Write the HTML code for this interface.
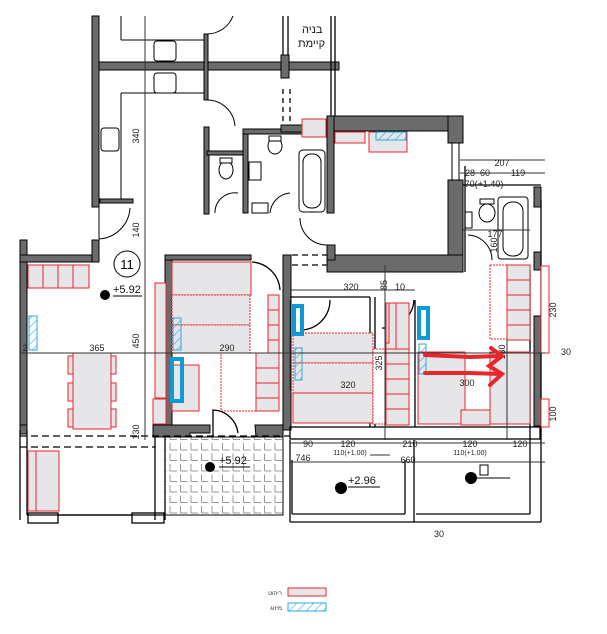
<!DOCTYPE html>
<html><head><meta charset="utf-8"><style>
html,body{margin:0;padding:0;background:#fff;}
svg{display:block;font-family:"Liberation Sans","Noto Sans CJK SC",sans-serif;}
</style></head><body>
<svg width="607" height="634" viewBox="0 0 607 634" xmlns="http://www.w3.org/2000/svg">
<defs>
<pattern id="tile" width="10.5" height="10.5" patternUnits="userSpaceOnUse">
<path d="M2 2 V9 M2 9 H9" stroke="#999" stroke-width="1" fill="none"/>
</pattern>
<pattern id="hatch" width="6" height="6" patternUnits="userSpaceOnUse" patternTransform="rotate(45)">
<line x1="0" y1="0" x2="0" y2="6" stroke="#29a8e0" stroke-width="1.2"/>
</pattern>
</defs>
<g fill="none" stroke="#000" stroke-width="1">
<line x1="121" y1="16" x2="121" y2="40"/><line x1="121" y1="40" x2="204" y2="40"/>
<line x1="121" y1="93" x2="204" y2="93"/><line x1="121" y1="93" x2="121" y2="200"/>
<path d="M207 34 A28 28 0 0 0 233 16"/>
<path d="M207 100 A28 28 0 0 1 235 126"/>
<rect x="154" y="41" width="22" height="20" rx="3"/>
<rect x="154" y="73" width="22" height="20" rx="3"/>
<rect x="101" y="128" width="18" height="23" rx="3"/>
<path d="M99 206 V239 M99 239 A33 33 0 0 0 130 208"/>
</g>
<g fill="#6b6b6b" stroke="#000" stroke-width="1">
<rect x="92" y="16" width="7" height="191"/>
<rect x="99" y="62" width="240" height="8"/>
<rect x="204" y="34" width="4" height="66"/>
<rect x="281" y="55" width="8" height="23"/>
<rect x="100" y="199" width="33" height="4"/>
<rect x="20" y="240" width="7" height="190"/>
<rect x="20" y="255" width="79" height="7"/>
<rect x="92" y="240" width="7" height="22"/>
<rect x="204" y="127" width="5" height="87"/>
<rect x="207" y="151" width="36" height="4"/>
<rect x="243" y="129" width="5" height="84"/>
<rect x="243" y="129" width="62" height="5"/>
<rect x="281" y="125" width="24" height="7"/>
<rect x="327" y="116" width="136" height="15"/>
<rect x="327" y="116" width="7" height="97"/>
<rect x="448" y="116" width="15" height="27"/>
<rect x="448" y="180" width="15" height="92"/>
<rect x="327" y="255" width="136" height="17"/>
<rect x="327" y="245" width="8" height="15"/>
<rect x="165" y="255" width="7" height="175"/>
<rect x="165" y="255" width="86" height="5"/>
<rect x="283" y="255" width="8" height="175"/>
<rect x="534" y="187" width="7" height="20"/>
<rect x="534" y="252" width="7" height="18"/>
<rect x="534" y="316" width="7" height="110"/>
<polygon points="153,425 210,425 210,433 190,433 190,437 165,437 165,437 153,437"/>
<polygon points="255,425 283,425 283,437 256,437"/>
<rect x="20" y="425" width="7" height="9"/>
</g>
<g fill="none" stroke="#000"><line x1="452" y1="143" x2="452" y2="180"/><line x1="459" y1="143" x2="459" y2="180"/></g>
<g fill="#fff" stroke="#000" stroke-width="1">
<ellipse cx="226" cy="170" rx="7" ry="9"/><rect x="220" y="158" width="12" height="5"/>
<ellipse cx="275" cy="146" rx="7" ry="8"/><rect x="269" y="136" width="12" height="5"/>
<rect x="249" y="162" width="12" height="18"/>
<rect x="299" y="150" width="26" height="62" rx="4"/>
<rect x="303" y="154" width="18" height="54" rx="8"/>
<rect x="252" y="203" width="16" height="10"/>
<path d="M215 213 A20 20 0 0 1 238 193 M270 213 A22 22 0 0 1 290 193"/>
<path d="M300 218 A27 27 0 0 0 327 245"/>
<ellipse cx="487" cy="213" rx="8" ry="9"/><rect x="480" y="199" width="14" height="5"/>
<rect x="498" y="197" width="30" height="62" rx="3"/>
<rect x="503" y="202" width="20" height="54" rx="9"/>
<rect x="465" y="212" width="7" height="16"/>
<path d="M468 235 A25 25 0 0 1 492 260"/>
</g>
<g fill="none" stroke="#000" stroke-width="1.3">
<line x1="463" y1="185" x2="541" y2="185"/>
<line x1="465" y1="166" x2="465" y2="272"/>
<line x1="530" y1="270" x2="530" y2="440"/>
<line x1="541" y1="200" x2="541" y2="440"/>
<line x1="290" y1="297" x2="370" y2="297"/>
<line x1="370" y1="297" x2="370" y2="427"/>
<line x1="375" y1="297" x2="375" y2="427"/>
<line x1="415" y1="300" x2="415" y2="427"/>
<path d="M303 330 A30 30 0 0 0 330 300"/>
<path d="M382 328 A30 30 0 0 0 414 300"/>
<line x1="27" y1="515" x2="165" y2="515"/>
<line x1="20" y1="430" x2="20" y2="520"/>
<line x1="27" y1="430" x2="27" y2="515"/>
<line x1="165" y1="437" x2="165" y2="520"/>
<line x1="155" y1="437" x2="155" y2="520"/>
<rect x="28" y="513" width="30" height="10"/>
<rect x="132" y="513" width="32" height="10"/>
<line x1="58" y1="515" x2="132" y2="515"/>
<path d="M213 437 V410 A26 26 0 0 1 238 433"/>
<rect x="290" y="427" width="250" height="12"/>
<line x1="290" y1="440" x2="290" y2="522"/>
<line x1="292" y1="460" x2="292" y2="514"/>
<line x1="292" y1="514" x2="405" y2="514"/>
<line x1="405" y1="460" x2="405" y2="514"/>
<line x1="414" y1="440" x2="414" y2="522"/>
<line x1="416" y1="514" x2="530" y2="514"/>
<line x1="530" y1="440" x2="530" y2="514"/>
<line x1="290" y1="522" x2="541" y2="522"/>
<line x1="541" y1="440" x2="541" y2="522"/>
<line x1="20" y1="436" x2="290" y2="436" stroke-dasharray="7,4"/>
<line x1="20" y1="447" x2="155" y2="447" stroke-dasharray="7,4"/>
<line x1="283" y1="89" x2="283" y2="125" stroke-dasharray="5,4"/>
<line x1="290" y1="89" x2="290" y2="125" stroke-dasharray="5,4"/>
<line x1="292" y1="255" x2="327" y2="255" stroke-dasharray="6,4"/>
<line x1="292" y1="265" x2="327" y2="265" stroke-dasharray="6,4"/>
<line x1="331" y1="16" x2="331" y2="116"/><line x1="335" y1="16" x2="335" y2="116"/>
<line x1="283" y1="16" x2="283" y2="55"/><line x1="288" y1="16" x2="288" y2="55"/>
<path d="M252 262 A30 30 0 0 1 280 290"/>
</g>
<rect x="165" y="437" width="118" height="78" fill="url(#tile)" stroke="#000"/>
<g fill="#e6e6e8" stroke="#e8262b" stroke-width="1">
<rect x="28" y="265" width="15" height="23"/><rect x="43" y="265" width="15" height="23"/><rect x="58" y="265" width="15" height="23"/><rect x="73" y="265" width="16" height="23"/>
<rect x="73" y="353" width="38" height="76"/>
<rect x="68" y="356" width="5" height="18"/><rect x="68" y="383" width="5" height="18"/><rect x="68" y="409" width="5" height="18"/>
<rect x="111" y="356" width="5" height="18"/><rect x="111" y="383" width="5" height="18"/><rect x="111" y="409" width="5" height="18"/>
<rect x="28" y="451" width="8" height="60"/><rect x="36" y="451" width="23" height="60"/>
<rect x="155" y="283" width="11" height="115"/><rect x="153" y="399" width="13" height="25"/>
<rect x="172" y="262" width="79" height="33"/>
<rect x="172" y="295" width="78" height="30" stroke-dasharray="2,1"/>
<rect x="172" y="325" width="78" height="28" stroke-dasharray="2,1"/>
<rect x="172" y="365" width="27" height="46"/>
<rect x="221" y="353" width="35" height="58" stroke-dasharray="2,1" fill="#fff"/>
<rect x="256" y="353" width="23" height="58"/>
<line x1="256" y1="368" x2="279" y2="368"/><line x1="256" y1="383" x2="279" y2="383"/><line x1="256" y1="398" x2="279" y2="398"/>
<rect x="268" y="295" width="11" height="58"/>
<line x1="268" y1="310" x2="279" y2="310"/><line x1="268" y1="325" x2="279" y2="325"/><line x1="268" y1="340" x2="279" y2="340"/>
<rect x="302" y="119" width="24" height="18"/>
<rect x="335" y="132" width="30" height="11"/><rect x="369" y="132" width="38" height="20"/>
<rect x="293" y="333" width="80" height="30" stroke-dasharray="2,1"/>
<rect x="293" y="363" width="80" height="30" stroke-dasharray="2,1"/>
<rect x="293" y="393" width="80" height="30"/>
<rect x="373" y="349" width="26" height="75" stroke-dasharray="2,1" fill="#fff"/>
<rect x="386" y="303" width="23" height="122"/>
<line x1="386" y1="349" x2="409" y2="349"/><line x1="386" y1="364" x2="409" y2="364"/><line x1="386" y1="379" x2="409" y2="379"/><line x1="386" y1="394" x2="409" y2="394"/><line x1="386" y1="409" x2="409" y2="409"/>
<rect x="386" y="303" width="10" height="46"/>
<rect x="386" y="303" width="3" height="40"/>
<rect x="418" y="352" width="47" height="72"/>
<rect x="461" y="410" width="29" height="15"/>
<rect x="490" y="352" width="40" height="72"/>
<rect x="490" y="265" width="17" height="74" stroke-dasharray="2,1" fill="#fff"/>
<rect x="507" y="265" width="23" height="75"/>
<line x1="507" y1="280" x2="530" y2="280"/><line x1="507" y1="295" x2="530" y2="295"/><line x1="507" y1="310" x2="530" y2="310"/><line x1="507" y1="325" x2="530" y2="325"/>
<rect x="541" y="266" width="8" height="87" fill="#fff"/>
<rect x="541" y="399" width="8" height="28" fill="#fff"/>
</g>
<g stroke="#29a8e0" stroke-width="1" fill="url(#hatch)">
<rect x="29" y="316" width="8" height="34"/>
<rect x="173" y="318" width="8" height="32"/>
<rect x="295" y="348" width="7" height="32"/>
<rect x="419" y="344" width="7" height="30"/>
<rect x="376" y="132" width="30" height="8"/>
</g>
<g fill="none" stroke="#0e9ad7" stroke-width="4">
<rect x="172" y="359" width="10" height="42"/>
<rect x="294" y="306" width="8" height="28"/>
<rect x="419" y="308" width="9" height="30"/>
</g>
<g stroke="#333" stroke-width="1" fill="none">
<line x1="145" y1="16" x2="145" y2="440"/>
<line x1="20" y1="353" x2="545" y2="353"/>
<line x1="290" y1="290" x2="415" y2="290"/>
<line x1="290" y1="300" x2="290" y2="390"/>
<line x1="460" y1="160" x2="545" y2="160"/>
<line x1="460" y1="173" x2="545" y2="173"/>
<line x1="462" y1="230" x2="530" y2="230"/>
<line x1="385" y1="265" x2="385" y2="440"/>
<line x1="507" y1="340" x2="507" y2="440"/>
<line x1="290" y1="443" x2="545" y2="443"/>
<line x1="290" y1="462" x2="545" y2="462"/>
<line x1="370" y1="455" x2="390" y2="455"/>
</g>
<g font-size="9" fill="#222" text-anchor="middle">
<text x="139" y="136" transform="rotate(-90 139 136)">340</text>
<text x="139" y="230" transform="rotate(-90 139 230)">140</text>
<text x="139" y="341" transform="rotate(-90 139 341)">450</text>
<text x="139" y="432" transform="rotate(-90 139 432)">130</text>
<text x="97" y="351">365</text><text x="227" y="351">290</text><text x="25" y="351">2</text>
<text x="351" y="290">320</text><text x="348" y="388">320</text><text x="400" y="290">10</text>
<text x="387" y="285" transform="rotate(-90 387 285)">85</text>
<text x="382" y="363" transform="rotate(-90 382 363)">325</text>
<text x="467" y="386">300</text>
<text x="505" y="352" transform="rotate(-90 505 352)">130</text>
<text x="502" y="166">207</text>
<text x="470" y="176">28</text><text x="485" y="176">60</text><text x="518" y="176">119</text>
<text x="484" y="187">70(+1.40)</text>
<text x="495" y="237">177</text>
<text x="497" y="245" transform="rotate(-90 497 245)">160</text>
<text x="556" y="310" transform="rotate(-90 556 310)">230</text>
<text x="556" y="414" transform="rotate(-90 556 414)">100</text>
<text x="566" y="355">30</text>
<text x="308" y="447">90</text><text x="348" y="447">120</text><text x="410" y="447">210</text><text x="470" y="447">120</text><text x="520" y="447">120</text>
<text x="350" y="455" font-size="7">110(+1.00)</text><text x="470" y="455" font-size="7">110(+1.00)</text>
<text x="303" y="461">746</text><text x="408" y="463">660</text>
<text x="439" y="537">30</text>
</g>
<g font-size="11" fill="#111">
<text x="302" y="33">בניה</text><text x="298" y="47">קיימת</text>
<text x="113" y="293">+5.92</text><text x="219" y="464">+5.92</text>
<text x="348" y="484">+2.96</text>
</g>
<circle cx="127" cy="264" r="13" fill="#fff" stroke="#000"/>
<text x="127" y="269" font-size="13" text-anchor="middle">11</text>
<g fill="#000">
<circle cx="105" cy="295" r="5"/><circle cx="210" cy="467" r="5"/><circle cx="341" cy="488" r="6"/><circle cx="471" cy="478" r="6"/>
</g>
<g stroke="#000" fill="none"><line x1="113" y1="296" x2="142" y2="296"/><line x1="219" y1="467" x2="250" y2="467"/><line x1="348" y1="487" x2="380" y2="487"/><line x1="477" y1="478" x2="510" y2="478"/><rect x="480" y="465" width="8" height="10"/></g>
<g stroke="#e8262b" stroke-width="4" fill="none" stroke-linecap="round">
<path d="M425 355 L470 357 L500 356"/>
<path d="M425 373 L470 373 L500 374"/>
<path d="M491 348 L502 356 L489 366 L502 374 L490 385"/>
</g>
<rect x="288" y="588" width="38" height="8" fill="#e6e6e8" stroke="#e8262b"/>
<rect x="288" y="603" width="38" height="8" fill="url(#hatch)" stroke="#29a8e0"/>
<text x="282" y="595" font-size="6" text-anchor="end" fill="#333">ריהוט</text>
<text x="282" y="610" font-size="6" text-anchor="end" fill="#333">מיזוג</text>
</svg>
</body></html>
